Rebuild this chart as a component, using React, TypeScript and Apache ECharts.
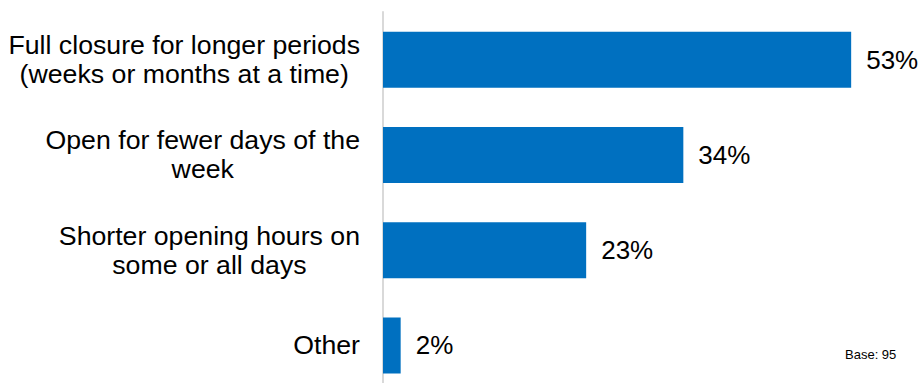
import React, { useEffect, useRef } from "react";
import * as echarts from "echarts";

const categories = [
  "Full closure for longer periods\n(weeks or months at a time)",
  "Open for fewer days of the\nweek",
  "Shorter opening hours on\nsome or all days",
  "Other",
];
const values = [53, 34, 23, 2];
const baseNote = "Base: 95";

const FONT = "Liberation Sans, Arial, sans-serif";

export default function App() {
  const ref = useRef<HTMLDivElement>(null);
  useEffect(() => {
    const chart = echarts.init(ref.current!, null, { renderer: "svg" });
    chart.setOption({
      animation: false,
      grid: { left: 383, top: 12, right: 9, height: 381, containLabel: false },
      xAxis: {
        type: "value",
        min: 0,
        max: 60,
        show: false,
      },
      yAxis: {
        type: "category",
        data: categories,
        inverse: true,
        axisLine: { show: true, lineStyle: { color: "#d9d9d9", width: 2 } },
        axisTick: { show: false },
        axisLabel: {
          margin: 23,
          align: "right",
          formatter: (v: string) =>
            v
              .split("\n")
              .map((l) => `{c|${l}}`)
              .join("\n"),
          rich: {
            c: {
              align: "center",
              fontFamily: FONT,
              fontSize: 26.7,
              lineHeight: 29,
              color: "#000000",
            },
          },
        },
      },
      series: [
        {
          type: "bar",
          data: values,
          barWidth: 56,
          itemStyle: { color: "#0070C0" },
          label: {
            show: true,
            position: "right",
            distance: 15,
            formatter: "{c}%",
            fontFamily: FONT,
            fontSize: 26,
            color: "#000000",
          },
        },
      ],
      graphic: [
        {
          type: "text",
          left: 845,
          top: 348,
          style: {
            text: baseNote,
            fontFamily: FONT,
            fontSize: 13,
            fill: "#000000",
          },
        },
      ],
    });
    return () => chart.dispose();
  }, []);
  return (
    <div
      ref={ref}
      style={{ position: "fixed", left: 0, top: 0, width: 922, height: 400, background: "#fff" }}
    />
  );
}
